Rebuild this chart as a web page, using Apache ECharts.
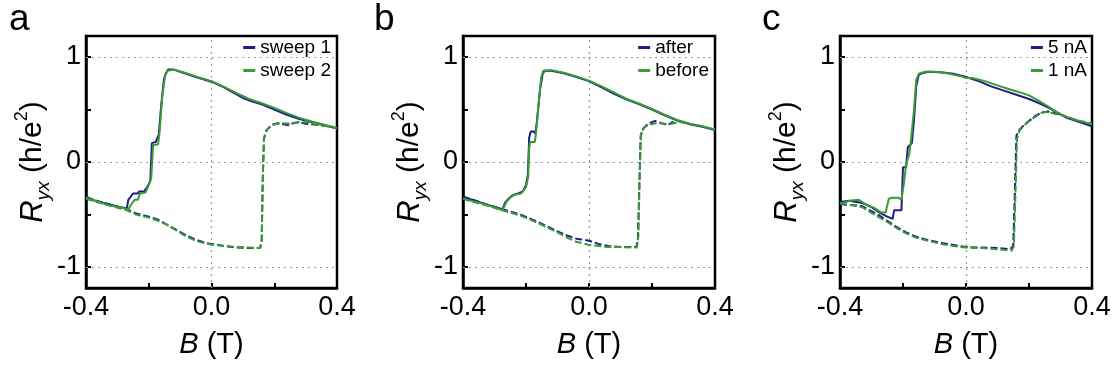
<!DOCTYPE html>
<html>
<head>
<meta charset="utf-8">
<script src="https://cdn.jsdelivr.net/npm/echarts@6/dist/echarts.min.js"></script>
<style>
html,body{margin:0;padding:0;background:#fff;}
#chart{width:1119px;height:373px;}
</style>
</head>
<body>
<div id="chart"></div>
<script>
// ---------- data ----------
const panelLetters = ['a', 'b', 'c'];
const legendNames = [['sweep 1', 'sweep 2'], ['after', 'before'], ['5 nA', '1 nA']];
const xLabelValues = [-0.4, 0, 0.4];
const xTickValues = [-0.2, 0, 0.2];
const yLabelValues = [-1, 0, 1];
const yTickValues = [-1, -0.5, 0, 0.5, 1];
const gridLinesY = [-1, 0, 1];
const gridLinesX = [0];

// panel a
const aBlueSolid = [[-0.40,-0.33],[-0.37,-0.37],[-0.33,-0.40],[-0.29,-0.43],[-0.27,-0.44],[-0.265,-0.36],[-0.25,-0.30],[-0.235,-0.30],[-0.23,-0.28],[-0.215,-0.28],[-0.205,-0.24],[-0.195,-0.18],[-0.19,0.18],[-0.178,0.19],[-0.172,0.20],[-0.168,0.26],[-0.16,0.55],[-0.152,0.78],[-0.145,0.85],[-0.138,0.88],[-0.12,0.88],[-0.09,0.85],[-0.05,0.81],[0,0.765],[0.04,0.71],[0.07,0.66],[0.1,0.61],[0.13,0.575],[0.16,0.55],[0.2,0.50],[0.24,0.45],[0.28,0.41],[0.32,0.38],[0.36,0.35],[0.40,0.32]];
const aGreenSolid = [[-0.40,-0.34],[-0.37,-0.37],[-0.33,-0.41],[-0.29,-0.43],[-0.265,-0.45],[-0.255,-0.40],[-0.245,-0.36],[-0.235,-0.36],[-0.228,-0.30],[-0.21,-0.29],[-0.2,-0.22],[-0.192,-0.15],[-0.186,0.16],[-0.17,0.17],[-0.165,0.30],[-0.157,0.62],[-0.148,0.82],[-0.14,0.87],[-0.12,0.88],[-0.09,0.855],[-0.05,0.815],[0,0.77],[0.04,0.715],[0.08,0.655],[0.12,0.60],[0.16,0.56],[0.2,0.515],[0.24,0.465],[0.28,0.42],[0.32,0.385],[0.36,0.355],[0.40,0.325]];
const aBlueDash = [[-0.40,-0.34],[-0.33,-0.40],[-0.27,-0.45],[-0.24,-0.49],[-0.2,-0.52],[-0.17,-0.55],[-0.14,-0.60],[-0.11,-0.65],[-0.08,-0.70],[-0.05,-0.74],[-0.02,-0.77],[0.0,-0.78],[0.04,-0.80],[0.08,-0.815],[0.12,-0.82],[0.155,-0.82],[0.16,-0.75],[0.163,-0.2],[0.167,0.22],[0.175,0.30],[0.19,0.35],[0.21,0.37],[0.23,0.36],[0.245,0.35],[0.26,0.37],[0.28,0.38],[0.30,0.365],[0.32,0.36],[0.35,0.35],[0.38,0.335],[0.40,0.32]];
const aGreenDash = [[-0.40,-0.35],[-0.33,-0.41],[-0.27,-0.46],[-0.24,-0.50],[-0.2,-0.53],[-0.17,-0.56],[-0.14,-0.60],[-0.11,-0.655],[-0.08,-0.71],[-0.05,-0.75],[-0.02,-0.775],[0,-0.785],[0.04,-0.80],[0.08,-0.81],[0.12,-0.815],[0.155,-0.82],[0.16,-0.74],[0.164,-0.1],[0.168,0.24],[0.178,0.31],[0.195,0.355],[0.22,0.37],[0.25,0.365],[0.28,0.38],[0.31,0.375],[0.34,0.355],[0.37,0.34],[0.40,0.32]];

// panel b
const bBlueSolid = [[-0.40,-0.33],[-0.36,-0.37],[-0.32,-0.41],[-0.275,-0.45],[-0.265,-0.38],[-0.255,-0.35],[-0.245,-0.32],[-0.235,-0.31],[-0.225,-0.30],[-0.21,-0.28],[-0.2,-0.22],[-0.194,-0.12],[-0.19,0.23],[-0.185,0.29],[-0.175,0.29],[-0.17,0.27],[-0.165,0.40],[-0.155,0.70],[-0.147,0.84],[-0.14,0.87],[-0.12,0.87],[-0.08,0.845],[-0.04,0.81],[0,0.77],[0.04,0.71],[0.08,0.65],[0.12,0.595],[0.16,0.55],[0.2,0.50],[0.24,0.445],[0.28,0.395],[0.32,0.36],[0.36,0.335],[0.40,0.305]];
const bGreenSolid = [[-0.40,-0.35],[-0.36,-0.38],[-0.32,-0.41],[-0.275,-0.46],[-0.27,-0.46],[-0.262,-0.38],[-0.25,-0.34],[-0.235,-0.31],[-0.215,-0.30],[-0.2,-0.24],[-0.193,-0.14],[-0.19,0.13],[-0.187,0.19],[-0.172,0.19],[-0.168,0.28],[-0.16,0.55],[-0.152,0.80],[-0.145,0.87],[-0.12,0.875],[-0.08,0.85],[-0.04,0.815],[0,0.775],[0.04,0.72],[0.08,0.66],[0.12,0.60],[0.16,0.555],[0.2,0.505],[0.24,0.45],[0.28,0.40],[0.32,0.365],[0.36,0.34],[0.40,0.31]];
const bBlueDash = [[-0.40,-0.33],[-0.32,-0.41],[-0.275,-0.45],[-0.24,-0.48],[-0.21,-0.51],[-0.17,-0.56],[-0.135,-0.61],[-0.1,-0.66],[-0.07,-0.70],[-0.04,-0.73],[0,-0.75],[0.03,-0.78],[0.06,-0.80],[0.1,-0.81],[0.15,-0.81],[0.155,-0.75],[0.16,-0.2],[0.164,0.25],[0.172,0.32],[0.19,0.37],[0.21,0.39],[0.23,0.37],[0.25,0.35],[0.265,0.38],[0.275,0.36]];
const bGreenDash = [[-0.40,-0.35],[-0.32,-0.42],[-0.275,-0.46],[-0.24,-0.49],[-0.21,-0.52],[-0.17,-0.57],[-0.135,-0.62],[-0.1,-0.67],[-0.07,-0.72],[-0.04,-0.76],[0,-0.79],[0.03,-0.80],[0.06,-0.81],[0.1,-0.81],[0.152,-0.815],[0.157,-0.7],[0.161,-0.1],[0.165,0.26],[0.175,0.33],[0.195,0.36],[0.22,0.37],[0.25,0.36],[0.27,0.37],[0.29,0.38],[0.31,0.37]];

// panel c
const cBlueSolid = [[-0.40,-0.38],[-0.37,-0.37],[-0.33,-0.39],[-0.30,-0.43],[-0.27,-0.49],[-0.25,-0.52],[-0.233,-0.54],[-0.228,-0.46],[-0.205,-0.46],[-0.2,-0.05],[-0.19,-0.05],[-0.185,0.14],[-0.172,0.18],[-0.165,0.40],[-0.158,0.72],[-0.15,0.83],[-0.14,0.845],[-0.12,0.86],[-0.08,0.855],[-0.04,0.84],[0,0.81],[0.04,0.77],[0.08,0.72],[0.12,0.68],[0.16,0.64],[0.2,0.60],[0.24,0.55],[0.28,0.49],[0.32,0.42],[0.36,0.38],[0.40,0.34]];
const cGreenSolid = [[-0.40,-0.40],[-0.37,-0.37],[-0.34,-0.36],[-0.32,-0.40],[-0.29,-0.44],[-0.27,-0.48],[-0.255,-0.48],[-0.245,-0.35],[-0.235,-0.34],[-0.215,-0.34],[-0.205,-0.36],[-0.198,-0.22],[-0.19,-0.02],[-0.18,0.08],[-0.175,0.20],[-0.165,0.5],[-0.158,0.78],[-0.15,0.84],[-0.13,0.86],[-0.1,0.86],[-0.06,0.845],[-0.02,0.82],[0,0.80],[0.02,0.80],[0.06,0.77],[0.1,0.73],[0.14,0.69],[0.17,0.665],[0.2,0.635],[0.23,0.585],[0.26,0.53],[0.29,0.47],[0.32,0.43],[0.35,0.40],[0.38,0.375],[0.40,0.36]];
const cBlueDash = [[-0.40,-0.40],[-0.33,-0.42],[-0.28,-0.50],[-0.25,-0.56],[-0.22,-0.62],[-0.19,-0.67],[-0.16,-0.71],[-0.12,-0.745],[-0.08,-0.77],[-0.04,-0.79],[0,-0.81],[0.05,-0.815],[0.1,-0.82],[0.14,-0.83],[0.15,-0.80],[0.155,-0.3],[0.16,0.25],[0.168,0.30],[0.18,0.34],[0.2,0.39],[0.22,0.44],[0.24,0.47],[0.26,0.48],[0.28,0.47],[0.30,0.45]];
const cGreenDash = [[-0.40,-0.39],[-0.33,-0.43],[-0.28,-0.52],[-0.25,-0.57],[-0.22,-0.63],[-0.19,-0.68],[-0.16,-0.72],[-0.12,-0.75],[-0.08,-0.78],[-0.04,-0.80],[0,-0.815],[0.05,-0.82],[0.1,-0.83],[0.145,-0.845],[0.152,-0.80],[0.157,-0.3],[0.162,0.22],[0.17,0.30],[0.185,0.35],[0.2,0.39],[0.22,0.43],[0.24,0.47],[0.26,0.48],[0.28,0.46],[0.30,0.45],[0.33,0.42],[0.36,0.39],[0.38,0.38],[0.40,0.37]];

const panelData = [
  [aBlueSolid, aBlueDash, aGreenSolid, aGreenDash],
  [bBlueSolid, bBlueDash, bGreenSolid, bGreenDash],
  [cBlueSolid, cBlueDash, cGreenSolid, cGreenDash]
];

// ---------- layout / style ----------
const FONT = '"Liberation Sans", Arial, sans-serif';
const BLUE = '#1c1f86';
const GREEN = '#3a9a34';
const gridLefts = [86, 463, 840];
const gridWidths = [251, 252, 252];
const legendRights = [788, 410, 32];
const letterLefts = [9, 374, 762];

const option = {
  animation: false,
  backgroundColor: '#fff',
  title: [], grid: [], xAxis: [], yAxis: [], legend: [], series: []
};

for (let i = 0; i < 3; i++) {
  option.title.push({
    text: panelLetters[i], left: letterLefts[i], top: 1, padding: 0,
    textStyle: { fontSize: 37, fontWeight: 'normal', fontFamily: FONT, color: '#000' }
  });
  option.grid.push({
    left: gridLefts[i], top: 36, width: gridWidths[i], height: 252,
    show: true, borderColor: '#000', borderWidth: 2.5, backgroundColor: 'transparent'
  });
  option.xAxis.push({
    gridIndex: i, type: 'value', min: -0.4, max: 0.4,
    axisLine: { show: true, onZero: false, lineStyle: { color: '#000', width: 2.5 } },
    axisTick: { show: true, inside: true, length: 5, lineStyle: { color: '#000', width: 2 }, customValues: xTickValues },
    axisLabel: { customValues: xLabelValues, formatter: v => v.toFixed(1), fontSize: 27, color: '#000', fontFamily: FONT, margin: 6 },
    splitLine: { show: false },
    name: '{i|B}{n| (T)}', nameLocation: 'middle', nameGap: 42,
    nameTextStyle: {
      rich: {
        i: { fontSize: 29, fontStyle: 'italic', fontFamily: FONT, color: '#000' },
        n: { fontSize: 29, fontFamily: FONT, color: '#000' }
      }
    }
  });
  option.yAxis.push({
    gridIndex: i, type: 'value', min: -1.2, max: 1.2,
    axisLine: { show: true, onZero: false, lineStyle: { color: '#000', width: 2.5 } },
    axisTick: { show: true, inside: true, length: 5, lineStyle: { color: '#000', width: 2 }, customValues: yTickValues },
    axisLabel: { customValues: yLabelValues, formatter: v => String(Math.round(v)), fontSize: 27, color: '#000', fontFamily: FONT, margin: 5 },
    splitLine: { show: false },
    name: '{i|R}{sub|yx}{n| (h/e}{sup|2}{n|)}', nameLocation: 'middle', nameRotate: 90, nameGap: 27,
    nameTextStyle: {
      rich: {
        i: { fontSize: 31, fontStyle: 'italic', fontFamily: FONT, color: '#000', lineHeight: 40, verticalAlign: 'middle' },
        n: { fontSize: 30, fontFamily: FONT, color: '#000', lineHeight: 40, verticalAlign: 'middle' },
        sub: { fontSize: 19, fontStyle: 'italic', fontFamily: FONT, color: '#000', lineHeight: 20, verticalAlign: 'bottom' },
        sup: { fontSize: 18, fontFamily: FONT, color: '#000', lineHeight: 20, verticalAlign: 'top' }
      }
    }
  });
  option.legend.push({
    data: legendNames[i], orient: 'vertical', right: legendRights[i], top: 38,
    itemWidth: 12, itemHeight: 3, icon: 'rect', itemGap: 4, padding: 0, align: 'left',
    selectedMode: false,
    textStyle: { fontSize: 19, fontFamily: FONT, color: '#000' }
  });
  const [bs, bd, gs, gd] = panelData[i];
  const common = { type: 'line', xAxisIndex: i, yAxisIndex: i, showSymbol: false, symbol: 'none', smooth: false, silent: true };
  option.series.push({
    ...common, name: legendNames[i][0], data: bs, z: 3,
    lineStyle: { color: BLUE, width: 2 }, itemStyle: { color: BLUE },
    markLine: {
      silent: true, symbol: 'none', label: { show: false }, z: 1,
      lineStyle: { type: [2, 4], color: '#9a9a9a', width: 1.2 },
      data: gridLinesY.map(v => ({ yAxis: v })).concat(gridLinesX.map(v => ({ xAxis: v })))
    }
  });
  option.series.push({
    ...common, name: legendNames[i][0], data: bd, z: 3,
    lineStyle: { color: BLUE, width: 2, type: [7, 3] }, itemStyle: { color: BLUE }
  });
  option.series.push({
    ...common, name: legendNames[i][1], data: gs, z: 4,
    lineStyle: { color: GREEN, width: 2 }, itemStyle: { color: GREEN }
  });
  option.series.push({
    ...common, name: legendNames[i][1], data: gd, z: 4,
    lineStyle: { color: GREEN, width: 2, type: [7, 3] }, itemStyle: { color: GREEN }
  });
}

const chart = echarts.init(document.getElementById('chart'), null, { renderer: 'canvas' });
chart.setOption(option);
</script>
</body>
</html>
